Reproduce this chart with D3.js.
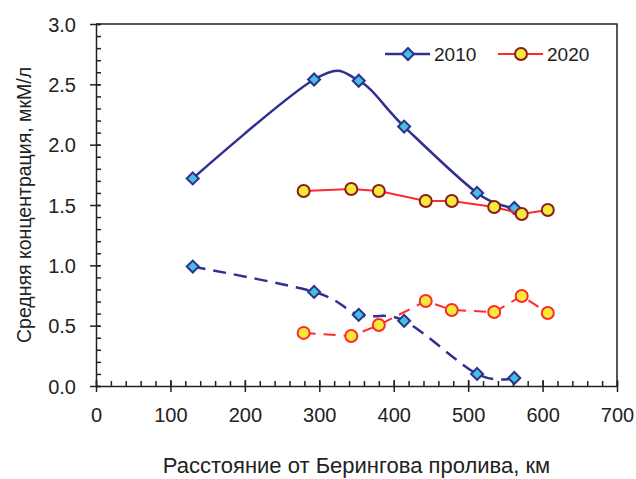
<!DOCTYPE html>
<html>
<head>
<meta charset="utf-8">
<script src="https://cdn.jsdelivr.net/npm/d3@7"></script>
<style>
  body { margin: 0; background: #fff; }
  text { font-family: "Liberation Sans", Arial, sans-serif; fill: #222; }
</style>
</head>
<body>
<div id="chart"></div>
<script>
// distance from Bering Strait, km
const dist2010 = [130, 293, 353, 414, 512, 562];
const upper2010 = [1.72, 2.54, 2.53, 2.15, 1.60, 1.475];
const lower2010 = [0.99, 0.78, 0.59, 0.54, 0.10, 0.066];

const dist2020 = [279, 343, 380, 443, 478, 535, 572, 607];
const upper2020 = [1.616, 1.633, 1.616, 1.533, 1.533, 1.483, 1.425, 1.458];
const lower2020 = [0.44, 0.414, 0.505, 0.704, 0.63, 0.613, 0.746, 0.605];

const xTicks = [0, 100, 200, 300, 400, 500, 600, 700];
const yTicks = [0, 0.5, 1.0, 1.5, 2.0, 2.5, 3.0];
const legendNames = ["2010", "2020"];

const width = 636, height = 479;
const margin = { top: 24, right: 19, bottom: 93, left: 96 };

const navy = "#2e3192", cyan = "#45c0d8", red = "#ff2a2a", yellow = "#f3ea3a", maroon = "#8b1c1c";

const x = d3.scaleLinear().domain([0, 700]).range([margin.left, width - margin.right]);
const y = d3.scaleLinear().domain([0, 3]).range([height - margin.bottom, margin.top]);

const svg = d3.select("#chart").append("svg")
  .attr("width", width)
  .attr("height", height);

// frame: top and right
svg.append("path")
  .attr("d", `M${x(0)},${y(3)}H${x(700)}V${y(0)}`)
  .attr("fill", "none")
  .attr("stroke", "#222")
  .attr("stroke-width", 1.5);

// x axis: minor ticks inside, major crossing
const xAxis = svg.append("g").attr("transform", `translate(0,${y(0)})`);
xAxis.call(d3.axisBottom(x).tickValues(d3.range(0, 701, 20)).tickSize(-5).tickFormat(""))
  .call(g => g.select(".domain").remove());
xAxis.append("g").call(d3.axisBottom(x).tickValues(xTicks).tickSize(6).tickSizeOuter(0).tickFormat(d3.format("d")))
  .call(g => g.selectAll(".tick line").attr("y1", -6))
  .call(g => g.selectAll(".tick text").attr("font-size", 20).attr("dy", 0).attr("y", 36).attr("fill", "#222"));
xAxis.selectAll("line, path").attr("stroke", "#222").attr("stroke-width", 1.5);

// y axis
const yAxis = svg.append("g").attr("transform", `translate(${x(0)},0)`);
yAxis.call(d3.axisLeft(y).tickValues(d3.range(0, 3.001, 0.1)).tickSize(-5).tickFormat(""))
  .call(g => g.select(".domain").remove());
yAxis.append("g").call(d3.axisLeft(y).tickValues(yTicks).tickSize(6).tickSizeOuter(0).tickFormat(d3.format(".1f")))
  .call(g => g.selectAll(".tick line").attr("x1", 4))
  .call(g => g.selectAll(".tick text").attr("font-size", 20).attr("x", -20).attr("dy", "0.35em").attr("fill", "#222"));
yAxis.selectAll("line, path").attr("stroke", "#222").attr("stroke-width", 1.5);

// axis titles
svg.append("text")
  .attr("x", (x(0) + x(700)) / 2)
  .attr("y", 473)
  .attr("text-anchor", "middle")
  .attr("font-size", 22)
  .text("Расстояние от Берингова пролива, км");

svg.append("text")
  .attr("transform", `translate(31,${(y(0) + y(3)) / 2}) rotate(-90)`)
  .attr("text-anchor", "middle")
  .attr("font-size", 19.5)
  .text("Средняя концентрация, мкМ/л");

const smooth = d3.line().x(d => x(d[0])).y(d => y(d[1])).curve(d3.curveCardinal.tension(0));
const straight = d3.line().x(d => x(d[0])).y(d => y(d[1]));

const zip = (xs, ys) => xs.map((v, i) => [v, ys[i]]);

const series = [
  { pts: zip(dist2010, upper2010), line: smooth, stroke: navy, width: 2.5, dash: null, marker: "diamond", mstroke: navy },
  { pts: zip(dist2010, lower2010), line: smooth, stroke: navy, width: 2.5, dash: "13,8", marker: "diamond", mstroke: navy },
  { pts: zip(dist2020, upper2020), line: straight, stroke: red, width: 2, dash: null, marker: "circle", mstroke: maroon },
  { pts: zip(dist2020, lower2020), line: straight, stroke: red, width: 2, dash: "12,8", marker: "circle", mstroke: red }
];

const diamond = d3.symbol().type(d3.symbolSquare).size(72);

series.forEach(s => {
  svg.append("path")
    .attr("d", s.line(s.pts))
    .attr("fill", "none")
    .attr("stroke", s.stroke)
    .attr("stroke-width", s.width)
    .attr("stroke-dasharray", s.dash);

  const g = svg.append("g");
  if (s.marker === "diamond") {
    g.selectAll("path").data(s.pts).join("path")
      .attr("d", diamond)
      .attr("transform", d => `translate(${x(d[0])},${y(d[1])}) rotate(45)`)
      .attr("fill", cyan)
      .attr("stroke", s.mstroke)
      .attr("stroke-width", 2);
  } else {
    g.selectAll("circle").data(s.pts).join("circle")
      .attr("cx", d => x(d[0]))
      .attr("cy", d => y(d[1]))
      .attr("r", 6)
      .attr("fill", yellow)
      .attr("stroke", s.mstroke)
      .attr("stroke-width", 2);
  }
});

// legend
const legend = svg.append("g");
const lx = [385, 498];
legendNames.forEach((name, i) => {
  const gg = legend.append("g").attr("transform", `translate(${lx[i]},54)`);
  gg.append("line").attr("x1", 0).attr("x2", 45)
    .attr("stroke", i === 0 ? navy : red).attr("stroke-width", i === 0 ? 2.5 : 2);
  if (i === 0) {
    gg.append("path").attr("d", diamond).attr("transform", "translate(23,0) rotate(45)")
      .attr("fill", cyan).attr("stroke", navy).attr("stroke-width", 2);
  } else {
    gg.append("circle").attr("cx", 23).attr("r", 6)
      .attr("fill", yellow).attr("stroke", maroon).attr("stroke-width", 2);
  }
  gg.append("text").attr("x", 49).attr("y", 7).attr("font-size", 19).text(name);
});
</script>
</body>
</html>
